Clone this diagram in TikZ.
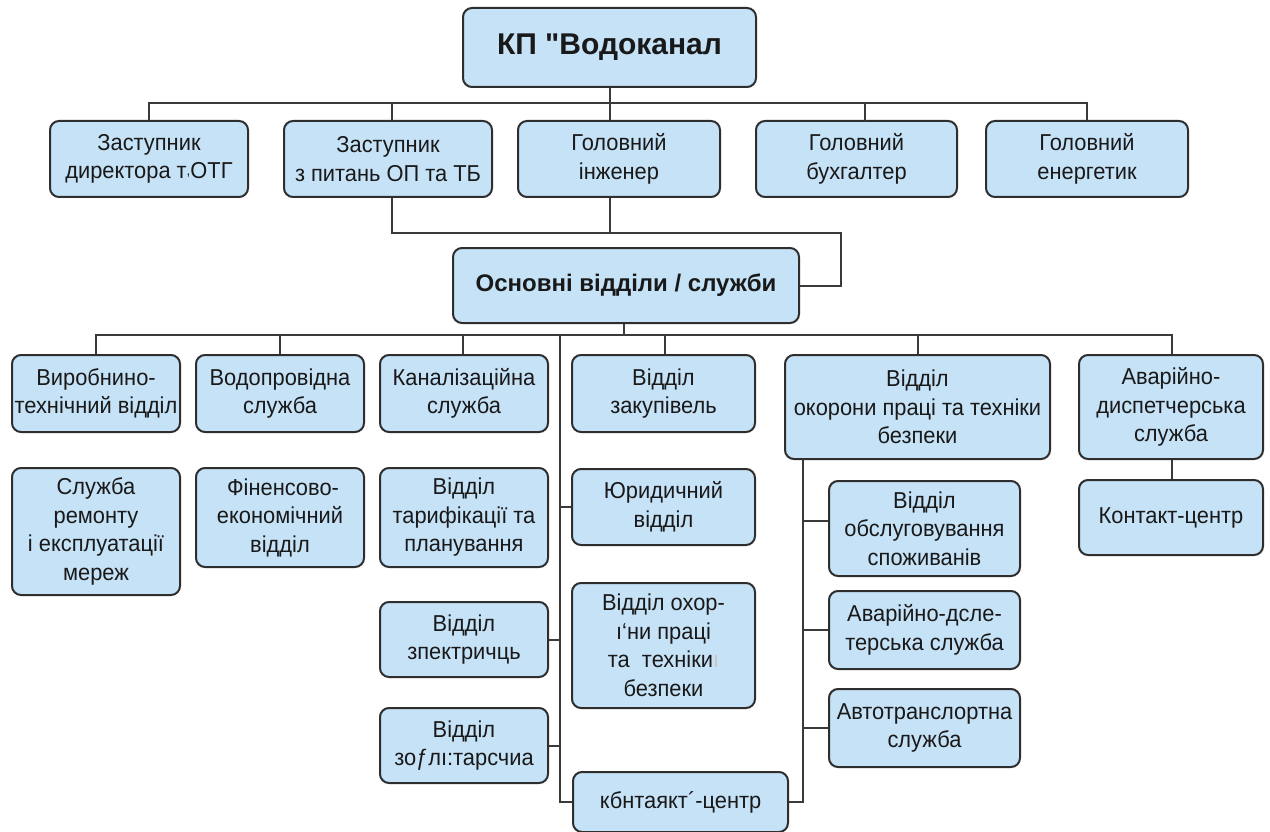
\documentclass[tikz,border=0pt]{standalone}
\usepackage{fontspec}
\setmainfont{Liberation Sans}
\newfontfamily\bxfont{Liberation Sans}[FakeStretch=0.95]
\newfontfamily\titlefont{Liberation Sans}[Ligatures=TeXOff]
\usetikzlibrary{calc}
\definecolor{boxc}{HTML}{C6E2F7}
\definecolor{edgec}{HTML}{2E2E2E}
\definecolor{linec}{HTML}{3A3A3A}
\begin{document}
\begin{tikzpicture}[x=1pt,y=-1pt,
  bx/.style={draw=edgec, fill=boxc, rounded corners=9pt, line width=2pt,
    align=center, inner sep=0pt, text=black!90,
    font=\bxfont\fontsize{23}{28.5}\selectfont},
  conn/.style={draw=linec, line width=2pt}]
\useasboundingbox[fill=white] (0,0) rectangle (1270,832);
% top
\node[bx, minimum width=293pt, minimum height=79pt, font=\titlefont\fontsize{30}{34}\selectfont\bfseries] (top) at (609.5,47.5) {КП "Водоканал};
% row 2
\node[bx, minimum width=198pt, minimum height=76pt] (a1) at (149,159) {Заступник\\директора т\raisebox{3pt}{\fontsize{14}{14}\selectfont,}ОТГ};
\node[bx, minimum width=208pt, minimum height=76pt] (a2) at (388,159) {Заступник\\з питань ОП та ТБ};
\node[bx, minimum width=202pt, minimum height=76pt] (a3) at (619,159) {Головний\\інженер};
\node[bx, minimum width=201pt, minimum height=76pt] (a4) at (856.5,159) {Головний\\бухгалтер};
\node[bx, minimum width=202pt, minimum height=76pt] (a5) at (1087,159) {Головний\\енергетик};
% main
\node[bx, minimum width=346pt, minimum height=75pt, font=\rmfamily\fontsize{24}{28}\selectfont\bfseries] (main) at (626,285.5) {Основні відділи / служби};
% row 3
\node[bx, minimum width=168pt, minimum height=77pt] (b1) at (96,393.5) {Виробнино-\\технічний відділ};
\node[bx, minimum width=168pt, minimum height=77pt] (b2) at (280,393.5) {Водопровідна\\служба};
\node[bx, minimum width=168pt, minimum height=77pt] (b3) at (464,393.5) {Каналізаційна\\служба};
\node[bx, minimum width=183pt, minimum height=77pt] (b4) at (663.5,393.5) {Відділ\\закупівель};
\node[bx, minimum width=265pt, minimum height=104pt] (b5) at (917.5,407) {Відділ\\окорони праці та техніки\\безпеки};
\node[bx, minimum width=184pt, minimum height=104pt] (b6) at (1171,407) {Аварійно-\\диспетчерська\\служба};
% left columns
\node[bx, minimum width=168pt, minimum height=127pt] (c1) at (96,531.5) {Служба\\ремонту\\і експлуатації\\мереж};
\node[bx, minimum width=168pt, minimum height=99pt] (c2) at (280,517.5) {\ Фіненсово-\\економічний\\відділ};
\node[bx, minimum width=168pt, minimum height=99pt] (c3) at (464,517.5) {Відділ\\тарифікації та\\планування};
\node[bx, minimum width=168pt, minimum height=75pt] (c4) at (464,639.5) {Відділ\\зпектричць};
\node[bx, minimum width=168pt, minimum height=75pt] (c5) at (464,745.5) {Відділ\\зоƒлı:тарсчиа};
% middle column
\node[bx, minimum width=183pt, minimum height=76pt] (d1) at (663.5,507) {Юридичний\\відділ};
\node[bx, minimum width=183pt, minimum height=125pt] (d2) at (663.5,645.5) {Відділ охор-\\ı‘ни праці\\та\ \ техніки{\color{gray!45}ı}\\безпеки};
\node[bx, minimum width=215pt, minimum height=60pt] (d3) at (680.5,802) {кбнтаякт´-центр};
% right sub-column
\node[bx, minimum width=191pt, minimum height=95pt] (e1) at (924.5,528.5) {Відділ\\обслуговування\\споживанів};
\node[bx, minimum width=191pt, minimum height=78pt] (e2) at (924.5,630) {Аварійно-дсле-\\терська служба};
\node[bx, minimum width=191pt, minimum height=78pt] (e3) at (924.5,728) {Автотранслортна\\служба};
\node[bx, minimum width=184pt, minimum height=75pt] (f1) at (1171,517.5) {Контакт-центр};
% coordinates
\coordinate (bus1) at (0,103);
\coordinate (rt) at (841,233);
\coordinate (bus3) at (0,335);
\coordinate (sp) at (560,335);
\coordinate (vr) at (803,459);
\coordinate (e1w) at ([yshift=8pt]e1.west);
% connectors top level
\draw[conn] (top.south) -- (top.south |- bus1);
\draw[conn] (a1.north) -- (a1.north |- bus1) -- (a5.north |- bus1) -- (a5.north);
\draw[conn] (a2.north |- bus1) ++(4,0) -- ++(0,18);
\draw[conn] (top.south |- bus1) -- (top.south |- a3.north);
\draw[conn] (a4.north |- bus1) ++(8,0) -- ++(0,18);
% to main
\draw[conn] ([xshift=4pt]a2.south) |- (rt) |- (main.east);
\draw[conn] (top.south |- a3.south) -- (top.south |- rt);
% main to row 3
\draw[conn] ([xshift=-2pt]main.south) -- ([xshift=-2pt]main.south |- bus3);
\draw[conn] (b1.north) -- (b1.north |- bus3) -- ([xshift=1pt]b6.north |- bus3) -- ([xshift=1pt]b6.north);
\draw[conn] (b2.north) -- (b2.north |- bus3);
\draw[conn] ([xshift=-1pt]b3.north) -- ([xshift=-1pt]b3.north |- bus3);
\draw[conn] ([xshift=1.5pt]b4.north) -- ([xshift=1.5pt]b4.north |- bus3);
\draw[conn] (b5.north) -- (b5.north |- bus3);
% spine
\draw[conn] (sp) |- (d3.west);
\draw[conn] (d1.west) -- (sp |- d1.west);
\draw[conn] (c4.east) -- (sp |- c4.east);
\draw[conn] (c5.east) -- (sp |- c5.east);
% right spine
\draw[conn] (vr) |- (d3.east);
\draw[conn] (e1w) -- (vr |- e1w);
\draw[conn] (e2.west) -- (vr |- e2.west);
\draw[conn] (e3.west) -- (vr |- e3.west);
% right column
\draw[conn] ([xshift=1pt]b6.south) -- ([xshift=1pt]f1.north);
\end{tikzpicture}
\end{document}
